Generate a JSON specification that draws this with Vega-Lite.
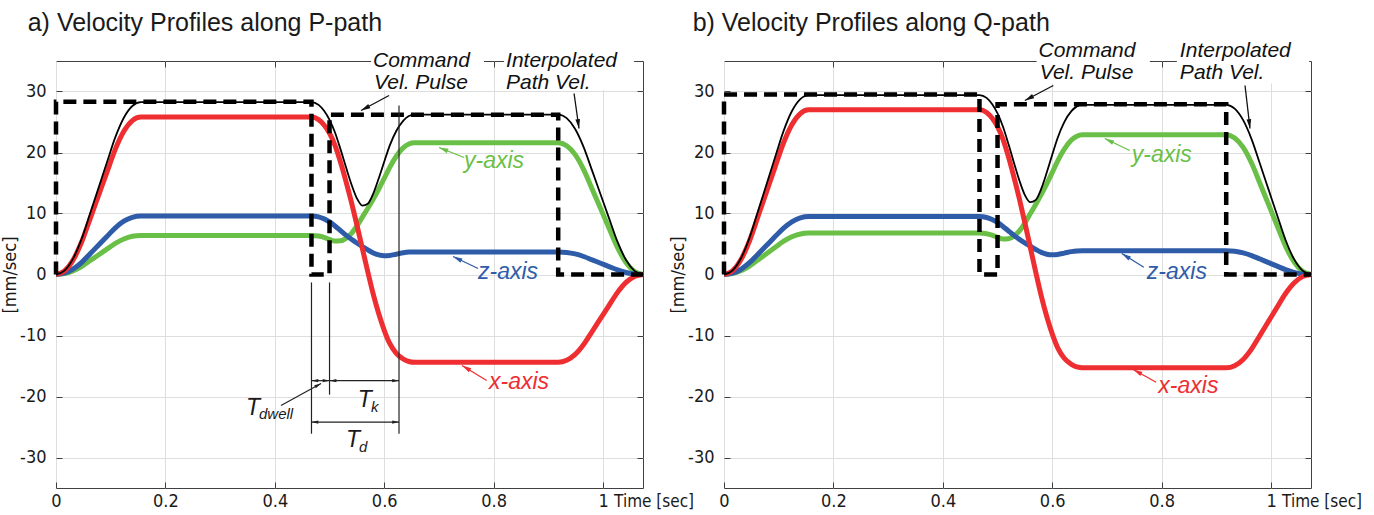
{
  "$schema": "https://vega.github.io/schema/vega-lite/v6.json",
  "background": "white",
  "padding": 0,
  "bounds": "flush",
  "spacing": 81,
  "config": {"view": {"stroke": "#404040", "strokeWidth": 1, "fill": "white"}},
  "datasets": {
    "curves": [
      {"panel":"a","t":0,"x":0,"y":0,"z":0,"p":0},
      {"panel":"a","t":0.0155,"x":0.58,"y":0.14,"z":0.22,"p":0.64},
      {"panel":"a","t":0.031,"x":2.33,"y":0.58,"z":0.87,"p":2.56},
      {"panel":"a","t":0.0465,"x":5.25,"y":1.3,"z":1.95,"p":5.75},
      {"panel":"a","t":0.062,"x":9.05,"y":2.25,"z":3.37,"p":9.91},
      {"panel":"a","t":0.0775,"x":12.9,"y":3.2,"z":4.8,"p":14.13},
      {"panel":"a","t":0.093,"x":16.75,"y":4.16,"z":6.23,"p":18.35},
      {"panel":"a","t":0.1085,"x":20.55,"y":5.1,"z":7.65,"p":22.51},
      {"panel":"a","t":0.124,"x":23.47,"y":5.82,"z":8.73,"p":25.7},
      {"panel":"a","t":0.1395,"x":25.22,"y":6.26,"z":9.38,"p":27.62},
      {"panel":"a","t":0.155,"x":25.8,"y":6.4,"z":9.6,"p":28.26},
      {"panel":"a","t":0.467,"x":25.8,"y":6.4,"z":9.6,"p":28.26},
      {"panel":"a","t":0.48,"x":25.39,"y":6.3,"z":9.45,"p":27.81},
      {"panel":"a","t":0.49,"x":24.51,"y":6.08,"z":9.12,"p":26.85},
      {"panel":"a","t":0.5,"x":23.16,"y":5.74,"z":8.62,"p":25.36},
      {"panel":"a","t":0.51,"x":21.18,"y":5.49,"z":7.96,"p":23.28},
      {"panel":"a","t":0.52,"x":18.44,"y":5.52,"z":7.2,"p":20.55},
      {"panel":"a","t":0.53,"x":15.28,"y":5.92,"z":6.45,"p":17.61},
      {"panel":"a","t":0.54,"x":11.85,"y":6.73,"z":5.77,"p":14.8},
      {"panel":"a","t":0.55,"x":8.14,"y":7.95,"z":5.16,"p":12.49},
      {"panel":"a","t":0.56,"x":4.27,"y":9.4,"z":4.59,"p":11.3},
      {"panel":"a","t":0.57,"x":0.41,"y":10.87,"z":4.03,"p":11.6},
      {"panel":"a","t":0.58,"x":-3.26,"y":12.38,"z":3.53,"p":13.28},
      {"panel":"a","t":0.59,"x":-6.45,"y":14.02,"z":3.22,"p":15.77},
      {"panel":"a","t":0.6,"x":-9.15,"y":15.77,"z":3.09,"p":18.49},
      {"panel":"a","t":0.61,"x":-11.31,"y":17.57,"z":3.12,"p":21.13},
      {"panel":"a","t":0.622,"x":-12.92,"y":19.39,"z":3.32,"p":23.52},
      {"panel":"a","t":0.635,"x":-13.86,"y":20.79,"z":3.56,"p":25.23},
      {"panel":"a","t":0.645,"x":-14.26,"y":21.4,"z":3.67,"p":25.97},
      {"panel":"a","t":0.655,"x":-14.4,"y":21.6,"z":3.7,"p":26.22},
      {"panel":"a","t":0.918,"x":-14.4,"y":21.6,"z":3.7,"p":26.22},
      {"panel":"a","t":0.9335,"x":-14.07,"y":21.11,"z":3.62,"p":25.63},
      {"panel":"a","t":0.949,"x":-13.1,"y":19.65,"z":3.37,"p":23.85},
      {"panel":"a","t":0.9645,"x":-11.47,"y":17.2,"z":2.95,"p":20.88},
      {"panel":"a","t":0.98,"x":-9.35,"y":14.02,"z":2.4,"p":17.02},
      {"panel":"a","t":0.9955,"x":-7.2,"y":10.8,"z":1.85,"p":13.11},
      {"panel":"a","t":1.011,"x":-5.05,"y":7.58,"z":1.3,"p":9.2},
      {"panel":"a","t":1.0265,"x":-2.93,"y":4.4,"z":0.75,"p":5.34},
      {"panel":"a","t":1.042,"x":-1.3,"y":1.95,"z":0.33,"p":2.37},
      {"panel":"a","t":1.0575,"x":-0.33,"y":0.49,"z":0.08,"p":0.59},
      {"panel":"a","t":1.073,"x":0,"y":0,"z":0,"p":0},
      {"panel":"b","t":0,"x":0,"y":0,"z":0,"p":0},
      {"panel":"b","t":0.0155,"x":0.61,"y":0.15,"z":0.21,"p":0.66},
      {"panel":"b","t":0.031,"x":2.44,"y":0.62,"z":0.86,"p":2.66},
      {"panel":"b","t":0.0465,"x":5.49,"y":1.38,"z":1.93,"p":5.99},
      {"panel":"b","t":0.062,"x":9.47,"y":2.39,"z":3.33,"p":10.32},
      {"panel":"b","t":0.0775,"x":13.5,"y":3.4,"z":4.75,"p":14.71},
      {"panel":"b","t":0.093,"x":17.53,"y":4.42,"z":6.17,"p":19.1},
      {"panel":"b","t":0.1085,"x":21.51,"y":5.42,"z":7.57,"p":23.43},
      {"panel":"b","t":0.124,"x":24.56,"y":6.18,"z":8.64,"p":26.76},
      {"panel":"b","t":0.1395,"x":26.39,"y":6.65,"z":9.29,"p":28.76},
      {"panel":"b","t":0.155,"x":27.0,"y":6.8,"z":9.5,"p":29.42},
      {"panel":"b","t":0.467,"x":27.0,"y":6.8,"z":9.5,"p":29.42},
      {"panel":"b","t":0.48,"x":26.57,"y":6.69,"z":9.35,"p":28.95},
      {"panel":"b","t":0.49,"x":25.65,"y":6.46,"z":9.03,"p":27.95},
      {"panel":"b","t":0.5,"x":24.23,"y":6.1,"z":8.53,"p":26.4},
      {"panel":"b","t":0.51,"x":22.16,"y":5.83,"z":7.88,"p":24.23},
      {"panel":"b","t":0.52,"x":19.29,"y":5.87,"z":7.14,"p":21.39},
      {"panel":"b","t":0.53,"x":15.97,"y":6.29,"z":6.41,"p":18.32},
      {"panel":"b","t":0.54,"x":12.37,"y":7.14,"z":5.75,"p":15.4},
      {"panel":"b","t":0.55,"x":8.47,"y":8.43,"z":5.17,"p":13.02},
      {"panel":"b","t":0.56,"x":4.4,"y":9.98,"z":4.63,"p":11.85},
      {"panel":"b","t":0.57,"x":0.33,"y":11.53,"z":4.09,"p":12.24},
      {"panel":"b","t":0.58,"x":-3.53,"y":13.13,"z":3.62,"p":14.07},
      {"panel":"b","t":0.59,"x":-6.89,"y":14.86,"z":3.33,"p":16.72},
      {"panel":"b","t":0.6,"x":-9.74,"y":16.72,"z":3.23,"p":19.62},
      {"panel":"b","t":0.61,"x":-12.02,"y":18.63,"z":3.29,"p":22.41},
      {"panel":"b","t":0.622,"x":-13.73,"y":20.55,"z":3.5,"p":24.97},
      {"panel":"b","t":0.635,"x":-14.72,"y":22.04,"z":3.75,"p":26.77},
      {"panel":"b","t":0.645,"x":-15.16,"y":22.68,"z":3.86,"p":27.56},
      {"panel":"b","t":0.655,"x":-15.3,"y":22.9,"z":3.9,"p":27.82},
      {"panel":"b","t":0.918,"x":-15.3,"y":22.9,"z":3.9,"p":27.82},
      {"panel":"b","t":0.9335,"x":-14.95,"y":22.38,"z":3.81,"p":27.19},
      {"panel":"b","t":0.949,"x":-13.92,"y":20.83,"z":3.55,"p":25.3},
      {"panel":"b","t":0.9645,"x":-12.19,"y":18.24,"z":3.11,"p":22.16},
      {"panel":"b","t":0.98,"x":-9.93,"y":14.87,"z":2.53,"p":18.06},
      {"panel":"b","t":0.9955,"x":-7.65,"y":11.45,"z":1.95,"p":13.91},
      {"panel":"b","t":1.011,"x":-5.37,"y":8.03,"z":1.37,"p":9.76},
      {"panel":"b","t":1.0265,"x":-3.11,"y":4.66,"z":0.79,"p":5.66},
      {"panel":"b","t":1.042,"x":-1.38,"y":2.07,"z":0.35,"p":2.52},
      {"panel":"b","t":1.0575,"x":-0.35,"y":0.52,"z":0.09,"p":0.63},
      {"panel":"b","t":1.073,"x":0,"y":0,"z":0,"p":0}
    ],
    "pulse": [
      {"panel":"a","i":0,"t":0,"v":0},{"panel":"a","i":1,"t":0,"v":28.3},{"panel":"a","i":2,"t":0.467,"v":28.3},
      {"panel":"a","i":3,"t":0.467,"v":0},{"panel":"a","i":4,"t":0.5,"v":0},{"panel":"a","i":5,"t":0.5,"v":26.2},
      {"panel":"a","i":6,"t":0.918,"v":26.2},{"panel":"a","i":7,"t":0.918,"v":0},{"panel":"a","i":8,"t":1.073,"v":0},
      {"panel":"b","i":0,"t":0,"v":0},{"panel":"b","i":1,"t":0,"v":29.5},{"panel":"b","i":2,"t":0.467,"v":29.5},
      {"panel":"b","i":3,"t":0.467,"v":0},{"panel":"b","i":4,"t":0.5,"v":0},{"panel":"b","i":5,"t":0.5,"v":27.9},
      {"panel":"b","i":6,"t":0.918,"v":27.9},{"panel":"b","i":7,"t":0.918,"v":0},{"panel":"b","i":8,"t":1.073,"v":0}
    ],
    "wrect": [
      {"panel":"a","t":0.5759,"t2":0.7824,"v":30.25,"v2":36.7},
      {"panel":"a","t":0.819,"t2":1.0567,"v":30.25,"v2":36.7},
      {"panel":"b","t":0.5714,"t2":0.7784,"v":31.3,"v2":38.4},
      {"panel":"b","t":0.8278,"t2":1.0696,"v":31.3,"v2":38.4}
    ],
    "ann": [
      {"panel":"a","t":0.5795,"v":33.95,"text":"Command","c":"k"},
      {"panel":"a","t":0.5814,"v":30.4,"text":"Vel. Pulse","c":"k"},
      {"panel":"a","t":0.8227,"v":33.95,"text":"Interpolated","c":"k"},
      {"panel":"a","t":0.8227,"v":30.4,"text":"Path Vel.","c":"k"},
      {"panel":"a","t":0.7459,"v":17.38,"text":"y-axis","c":"y"},
      {"panel":"a","t":0.7715,"v":-0.66,"text":"z-axis","c":"z"},
      {"panel":"a","t":0.7916,"v":-18.74,"text":"x-axis","c":"x"},
      {"panel":"b","t":0.575,"v":35.65,"text":"Command","c":"k"},
      {"panel":"b","t":0.577,"v":32.05,"text":"Vel. Pulse","c":"k"},
      {"panel":"b","t":0.8333,"v":35.65,"text":"Interpolated","c":"k"},
      {"panel":"b","t":0.8333,"v":32.05,"text":"Path Vel.","c":"k"},
      {"panel":"b","t":0.7454,"v":18.41,"text":"y-axis","c":"y"},
      {"panel":"b","t":0.7729,"v":-0.66,"text":"z-axis","c":"z"},
      {"panel":"b","t":0.794,"v":-19.5,"text":"x-axis","c":"x"}
    ],
    "arrows": [
      {"panel":"a","t":0.6088,"v":29.34,"t2":0.5576,"v2":26.89,"ang":242,"c":"k"},
      {"panel":"a","t":0.947,"v":29.67,"t2":0.956,"v2":23.93,"ang":172,"c":"k"},
      {"panel":"a","t":0.7459,"v":19.18,"t2":0.7002,"v2":20.82,"ang":292,"c":"y"},
      {"panel":"a","t":0.7715,"v":0.98,"t2":0.7258,"v2":2.95,"ang":296,"c":"z"},
      {"panel":"a","t":0.7872,"v":-17.38,"t2":0.7422,"v2":-14.92,"ang":301,"c":"x"},
      {"panel":"b","t":0.602,"v":30.98,"t2":0.55,"v2":28.52,"ang":242,"c":"k"},
      {"panel":"b","t":0.9524,"v":30.98,"t2":0.9615,"v2":23.93,"ang":173,"c":"k"},
      {"panel":"b","t":0.7418,"v":20.33,"t2":0.696,"v2":22.3,"ang":296,"c":"y"},
      {"panel":"b","t":0.7674,"v":1.2,"t2":0.7271,"v2":3.44,"ang":302,"c":"z"},
      {"panel":"b","t":0.79,"v":-17.66,"t2":0.748,"v2":-15.57,"ang":299,"c":"x"}
    ],
    "tlines": [
      {"t":0.467,"v":-1.3,"t2":0.467,"v2":-26.1},
      {"t":0.5,"v":-1.3,"t2":0.5,"v2":-19.7},
      {"t":0.627,"v":27.7,"t2":0.627,"v2":-26.1},
      {"t":0.467,"v":-17.4,"t2":0.5,"v2":-17.4},
      {"t":0.5,"v":-17.4,"t2":0.627,"v2":-17.4},
      {"t":0.467,"v":-24.2,"t2":0.627,"v2":-24.2},
      {"t":0.4113,"v":-21.48,"t2":0.4845,"v2":-17.87}
    ],
    "theads": [
      {"t":0.467,"v":-17.4,"ang":270},{"t":0.5,"v":-17.4,"ang":90},
      {"t":0.5,"v":-17.4,"ang":270},{"t":0.627,"v":-17.4,"ang":90},
      {"t":0.467,"v":-24.2,"ang":270},{"t":0.627,"v":-24.2,"ang":90},
      {"t":0.4845,"v":-17.87,"ang":61}
    ],
    "tlabels": [
      {"t":0.3474,"v":-23.11,"text":"T","role":"main"},
      {"t":0.5516,"v":-21.75,"text":"T","role":"main"},
      {"t":0.5302,"v":-28.31,"text":"T","role":"main"},
      {"t":0.3711,"v":-23.66,"text":"dwell","role":"sub"},
      {"t":0.5759,"v":-22.57,"text":"k","role":"sub"},
      {"t":0.5539,"v":-29.13,"text":"d","role":"sub"}
    ],
    "titles": [
      {"panel":"a","t":-0.0517,"v":39.92,"text":"a) Velocity Profiles along P-path"},
      {"panel":"b","t":-0.0573,"v":39.92,"text":"b) Velocity Profiles along Q-path"}
    ],
    "timelab": [
      {"panel":"a","t":1.0201,"v":-38.1,"text":"Time [sec]"},
      {"panel":"b","t":1.0201,"v":-38.1,"text":"Time [sec]"}
    ]
  },
  "hconcat": [
    {
      "width": 587, "height": 427,
      "resolve": {"axis": {"x": "independent", "y": "independent"}},
      "layer": [
        {"data": {"name": "curves"}, "transform": [{"filter": "datum.panel == 'a'"}], "mark": {"type": "line", "color": "#6abf47", "strokeWidth": 5, "interpolate": "monotone"},
         "encoding": {
           "x": {"field": "t", "type": "quantitative", "scale": {"domain": [0, 1.073], "nice": false, "zero": false},
             "axis": {"title": null, "values": [0, 0.2, 0.4, 0.6, 0.8, 1], "labelExpr": "'' + datum.value", "grid": true, "gridColor": "#dedede", "gridWidth": 1, "domain": false, "ticks": true, "tickSize": -6, "tickColor": "#404040", "tickWidth": 1, "labelPadding": 10, "labelFlush": false, "labelOverlap": false, "labelFont": "DejaVu Sans Condensed, Liberation Sans Narrow, Liberation Sans", "labelFontSize": 18, "labelColor": "#1a1a1a"}},
           "y": {"field": "y", "type": "quantitative", "scale": {"domain": [-35, 35], "nice": false, "zero": false},
             "axis": {"title": "[mm/sec]", "values": [-30, -20, -10, 0, 10, 20, 30], "labelExpr": "'' + datum.value", "grid": true, "gridColor": "#dedede", "gridWidth": 1, "domain": false, "ticks": true, "tickSize": -6, "tickColor": "#404040", "tickWidth": 1, "labelPadding": 16, "labelFlush": false, "labelOverlap": false, "labelFont": "DejaVu Sans Condensed, Liberation Sans Narrow, Liberation Sans", "labelFontSize": 18, "labelColor": "#1a1a1a", "titleFont": "DejaVu Sans Condensed, Liberation Sans Narrow, Liberation Sans", "titleFontSize": 18, "titleFontWeight": "normal", "titleColor": "#1a1a1a", "titlePadding": 0}}
         }},
        {"data": {"name": "curves"}, "transform": [{"filter": "datum.panel == 'a'"}], "mark": {"type": "line", "color": "#2f5ca8", "strokeWidth": 5, "interpolate": "monotone"},
         "encoding": {"x": {"field": "t", "type": "quantitative", "scale": {"domain": [0, 1.073], "nice": false, "zero": false}, "axis": null}, "y": {"field": "z", "type": "quantitative", "scale": {"domain": [-35, 35], "nice": false, "zero": false}, "axis": null}}},
        {"data": {"name": "curves"}, "transform": [{"filter": "datum.panel == 'a'"}], "mark": {"type": "line", "color": "#ee2e31", "strokeWidth": 5, "interpolate": "monotone"},
         "encoding": {"x": {"field": "t", "type": "quantitative", "scale": {"domain": [0, 1.073], "nice": false, "zero": false}, "axis": null}, "y": {"field": "x", "type": "quantitative", "scale": {"domain": [-35, 35], "nice": false, "zero": false}, "axis": null}}},
        {"data": {"name": "curves"}, "transform": [{"filter": "datum.panel == 'a'"}], "mark": {"type": "line", "color": "#000000", "strokeWidth": 1.8, "interpolate": "monotone"},
         "encoding": {"x": {"field": "t", "type": "quantitative", "scale": {"domain": [0, 1.073], "nice": false, "zero": false}, "axis": null}, "y": {"field": "p", "type": "quantitative", "scale": {"domain": [-35, 35], "nice": false, "zero": false}, "axis": null}}},
        {"data": {"name": "pulse"}, "transform": [{"filter": "datum.panel == 'a'"}], "mark": {"type": "line", "color": "#000000", "strokeWidth": 4.5, "strokeDash": [13, 7], "strokeJoin": "miter", "strokeCap": "butt"},
         "encoding": {"x": {"field": "t", "type": "quantitative", "scale": {"domain": [0, 1.073], "nice": false, "zero": false}, "axis": null}, "y": {"field": "v", "type": "quantitative", "scale": {"domain": [-35, 35], "nice": false, "zero": false}, "axis": null}, "order": {"field": "i", "type": "quantitative"}}},
        {"data": {"name": "pulse"}, "transform": [{"filter": "datum.panel == 'a'"}], "mark": {"type": "point", "opacity": 0, "size": 1},
         "encoding": {
           "x": {"field": "t", "type": "quantitative", "scale": {"domain": [0, 1.073], "nice": false, "zero": false},
             "axis": {"orient": "top", "title": null, "labels": false, "grid": false, "domain": false, "ticks": true, "tickSize": -6, "tickColor": "#404040", "values": [0.2, 0.4, 0.6, 0.8, 1]}},
           "y": {"field": "v", "type": "quantitative", "scale": {"domain": [-35, 35], "nice": false, "zero": false},
             "axis": {"orient": "right", "title": null, "labels": false, "grid": false, "domain": false, "ticks": true, "tickSize": -6, "tickColor": "#404040", "values": [-30, -20, -10, 0, 10, 20, 30]}}
         }},
        {"data": {"name": "wrect"}, "transform": [{"filter": "datum.panel == 'a'"}], "mark": {"type": "rect", "color": "white", "opacity": 1},
         "encoding": {"x": {"field": "t", "type": "quantitative", "scale": {"domain": [0, 1.073], "nice": false, "zero": false}, "axis": null}, "y": {"field": "v", "type": "quantitative", "scale": {"domain": [-35, 35], "nice": false, "zero": false}, "axis": null}, "x2": {"field": "t2"}, "y2": {"field": "v2"}}},
        {"data": {"name": "tlines"}, "mark": {"type": "rule", "color": "#222222", "strokeWidth": 1.2},
         "encoding": {"x": {"field": "t", "type": "quantitative", "scale": {"domain": [0, 1.073], "nice": false, "zero": false}, "axis": null}, "y": {"field": "v", "type": "quantitative", "scale": {"domain": [-35, 35], "nice": false, "zero": false}, "axis": null}, "x2": {"field": "t2"}, "y2": {"field": "v2"}}},
        {"data": {"name": "theads"}, "mark": {"type": "point", "shape": "M0,0L-0.625,2.5L0.625,2.5Z", "size": 30, "filled": true, "color": "#222222", "opacity": 1},
         "encoding": {"x": {"field": "t", "type": "quantitative", "scale": {"domain": [0, 1.073], "nice": false, "zero": false}, "axis": null}, "y": {"field": "v", "type": "quantitative", "scale": {"domain": [-35, 35], "nice": false, "zero": false}, "axis": null}, "angle": {"field": "ang", "type": "quantitative", "scale": null}}},
        {"data": {"name": "tlabels"}, "transform": [{"filter": "datum.role == 'main'"}], "mark": {"type": "text", "align": "left", "baseline": "alphabetic", "font": "Liberation Sans", "fontStyle": "italic", "fontSize": 23, "color": "#1a1a1a"},
         "encoding": {"x": {"field": "t", "type": "quantitative", "scale": {"domain": [0, 1.073], "nice": false, "zero": false}, "axis": null}, "y": {"field": "v", "type": "quantitative", "scale": {"domain": [-35, 35], "nice": false, "zero": false}, "axis": null}, "text": {"field": "text"}}},
        {"data": {"name": "tlabels"}, "transform": [{"filter": "datum.role == 'sub'"}], "mark": {"type": "text", "align": "left", "baseline": "alphabetic", "font": "Liberation Sans", "fontStyle": "italic", "fontSize": 15, "color": "#1a1a1a"},
         "encoding": {"x": {"field": "t", "type": "quantitative", "scale": {"domain": [0, 1.073], "nice": false, "zero": false}, "axis": null}, "y": {"field": "v", "type": "quantitative", "scale": {"domain": [-35, 35], "nice": false, "zero": false}, "axis": null}, "text": {"field": "text"}}},
        {"data": {"name": "ann"}, "transform": [{"filter": "datum.panel == 'a' && datum.c == 'k'"}], "mark": {"type": "text", "align": "left", "baseline": "alphabetic", "font": "Liberation Sans", "fontStyle": "italic", "fontSize": 21, "color": "#111111"},
         "encoding": {"x": {"field": "t", "type": "quantitative", "scale": {"domain": [0, 1.073], "nice": false, "zero": false}, "axis": null}, "y": {"field": "v", "type": "quantitative", "scale": {"domain": [-35, 35], "nice": false, "zero": false}, "axis": null}, "text": {"field": "text"}}},
        {"data": {"name": "ann"}, "transform": [{"filter": "datum.panel == 'a' && datum.c != 'k'"}], "mark": {"type": "text", "align": "left", "baseline": "alphabetic", "font": "Liberation Sans", "fontStyle": "italic", "fontSize": 23},
         "encoding": {"x": {"field": "t", "type": "quantitative", "scale": {"domain": [0, 1.073], "nice": false, "zero": false}, "axis": null}, "y": {"field": "v", "type": "quantitative", "scale": {"domain": [-35, 35], "nice": false, "zero": false}, "axis": null}, "text": {"field": "text"}, "color": {"field": "c", "type": "nominal", "scale": {"domain": ["k", "x", "y", "z"], "range": ["#111111", "#ee2e31", "#6abf47", "#2f5ca8"]}, "legend": null}}},
        {"data": {"name": "arrows"}, "transform": [{"filter": "datum.panel == 'a'"}], "mark": {"type": "rule", "strokeWidth": 1.3},
         "encoding": {"x": {"field": "t", "type": "quantitative", "scale": {"domain": [0, 1.073], "nice": false, "zero": false}, "axis": null}, "y": {"field": "v", "type": "quantitative", "scale": {"domain": [-35, 35], "nice": false, "zero": false}, "axis": null}, "x2": {"field": "t2"}, "y2": {"field": "v2"}, "color": {"field": "c", "type": "nominal", "scale": {"domain": ["k", "x", "y", "z"], "range": ["#111111", "#ee2e31", "#6abf47", "#2f5ca8"]}, "legend": null}}},
        {"data": {"name": "arrows"}, "transform": [{"filter": "datum.panel == 'a'"}], "mark": {"type": "point", "shape": "M0,0L-0.625,2.5L0.625,2.5Z", "size": 56, "filled": true, "opacity": 1},
         "encoding": {"x": {"field": "t2", "type": "quantitative", "scale": {"domain": [0, 1.073], "nice": false, "zero": false}, "axis": null}, "y": {"field": "v2", "type": "quantitative", "scale": {"domain": [-35, 35], "nice": false, "zero": false}, "axis": null}, "angle": {"field": "ang", "type": "quantitative", "scale": null}, "color": {"field": "c", "type": "nominal", "scale": {"domain": ["k", "x", "y", "z"], "range": ["#111111", "#ee2e31", "#6abf47", "#2f5ca8"]}, "legend": null}}},
        {"data": {"name": "titles"}, "transform": [{"filter": "datum.panel == 'a'"}], "mark": {"type": "text", "align": "left", "baseline": "alphabetic", "font": "Liberation Sans", "fontSize": 25, "color": "#1a1a1a"},
         "encoding": {"x": {"field": "t", "type": "quantitative", "scale": {"domain": [0, 1.073], "nice": false, "zero": false}, "axis": null}, "y": {"field": "v", "type": "quantitative", "scale": {"domain": [-35, 35], "nice": false, "zero": false}, "axis": null}, "text": {"field": "text"}}},
        {"data": {"name": "timelab"}, "transform": [{"filter": "datum.panel == 'a'"}], "mark": {"type": "text", "align": "left", "baseline": "alphabetic", "font": "DejaVu Sans Condensed, Liberation Sans Narrow, Liberation Sans", "fontSize": 17, "color": "#1a1a1a"},
         "encoding": {"x": {"field": "t", "type": "quantitative", "scale": {"domain": [0, 1.073], "nice": false, "zero": false}, "axis": null}, "y": {"field": "v", "type": "quantitative", "scale": {"domain": [-35, 35], "nice": false, "zero": false}, "axis": null}, "text": {"field": "text"}}},
        {"data": {"values": [{"t": -0.09962, "v": 44.754}]}, "mark": {"type": "point", "shape": "square", "size": 1, "filled": true, "opacity": 0},
         "encoding": {"x": {"field": "t", "type": "quantitative", "scale": {"domain": [0, 1.073], "nice": false, "zero": false}, "axis": null}, "y": {"field": "v", "type": "quantitative", "scale": {"domain": [-35, 35], "nice": false, "zero": false}, "axis": null}}}
      ]
    },
    {
      "width": 587, "height": 427,
      "resolve": {"axis": {"x": "independent", "y": "independent"}},
      "layer": [
        {"data": {"name": "curves"}, "transform": [{"filter": "datum.panel == 'b'"}], "mark": {"type": "line", "color": "#6abf47", "strokeWidth": 5, "interpolate": "monotone"},
         "encoding": {
           "x": {"field": "t", "type": "quantitative", "scale": {"domain": [0, 1.073], "nice": false, "zero": false},
             "axis": {"title": null, "values": [0, 0.2, 0.4, 0.6, 0.8, 1], "labelExpr": "'' + datum.value", "grid": true, "gridColor": "#dedede", "gridWidth": 1, "domain": false, "ticks": true, "tickSize": -6, "tickColor": "#404040", "tickWidth": 1, "labelPadding": 10, "labelFlush": false, "labelOverlap": false, "labelFont": "DejaVu Sans Condensed, Liberation Sans Narrow, Liberation Sans", "labelFontSize": 18, "labelColor": "#1a1a1a"}},
           "y": {"field": "y", "type": "quantitative", "scale": {"domain": [-35, 35], "nice": false, "zero": false},
             "axis": {"title": "[mm/sec]", "values": [-30, -20, -10, 0, 10, 20, 30], "labelExpr": "'' + datum.value", "grid": true, "gridColor": "#dedede", "gridWidth": 1, "domain": false, "ticks": true, "tickSize": -6, "tickColor": "#404040", "tickWidth": 1, "labelPadding": 16, "labelFlush": false, "labelOverlap": false, "labelFont": "DejaVu Sans Condensed, Liberation Sans Narrow, Liberation Sans", "labelFontSize": 18, "labelColor": "#1a1a1a", "titleFont": "DejaVu Sans Condensed, Liberation Sans Narrow, Liberation Sans", "titleFontSize": 18, "titleFontWeight": "normal", "titleColor": "#1a1a1a", "titlePadding": 0}}
         }},
        {"data": {"name": "curves"}, "transform": [{"filter": "datum.panel == 'b'"}], "mark": {"type": "line", "color": "#2f5ca8", "strokeWidth": 5, "interpolate": "monotone"},
         "encoding": {"x": {"field": "t", "type": "quantitative", "scale": {"domain": [0, 1.073], "nice": false, "zero": false}, "axis": null}, "y": {"field": "z", "type": "quantitative", "scale": {"domain": [-35, 35], "nice": false, "zero": false}, "axis": null}}},
        {"data": {"name": "curves"}, "transform": [{"filter": "datum.panel == 'b'"}], "mark": {"type": "line", "color": "#ee2e31", "strokeWidth": 5, "interpolate": "monotone"},
         "encoding": {"x": {"field": "t", "type": "quantitative", "scale": {"domain": [0, 1.073], "nice": false, "zero": false}, "axis": null}, "y": {"field": "x", "type": "quantitative", "scale": {"domain": [-35, 35], "nice": false, "zero": false}, "axis": null}}},
        {"data": {"name": "curves"}, "transform": [{"filter": "datum.panel == 'b'"}], "mark": {"type": "line", "color": "#000000", "strokeWidth": 1.8, "interpolate": "monotone"},
         "encoding": {"x": {"field": "t", "type": "quantitative", "scale": {"domain": [0, 1.073], "nice": false, "zero": false}, "axis": null}, "y": {"field": "p", "type": "quantitative", "scale": {"domain": [-35, 35], "nice": false, "zero": false}, "axis": null}}},
        {"data": {"name": "pulse"}, "transform": [{"filter": "datum.panel == 'b'"}], "mark": {"type": "line", "color": "#000000", "strokeWidth": 4.5, "strokeDash": [13, 7], "strokeJoin": "miter", "strokeCap": "butt"},
         "encoding": {"x": {"field": "t", "type": "quantitative", "scale": {"domain": [0, 1.073], "nice": false, "zero": false}, "axis": null}, "y": {"field": "v", "type": "quantitative", "scale": {"domain": [-35, 35], "nice": false, "zero": false}, "axis": null}, "order": {"field": "i", "type": "quantitative"}}},
        {"data": {"name": "pulse"}, "transform": [{"filter": "datum.panel == 'b'"}], "mark": {"type": "point", "opacity": 0, "size": 1},
         "encoding": {
           "x": {"field": "t", "type": "quantitative", "scale": {"domain": [0, 1.073], "nice": false, "zero": false},
             "axis": {"orient": "top", "title": null, "labels": false, "grid": false, "domain": false, "ticks": true, "tickSize": -6, "tickColor": "#404040", "values": [0.2, 0.4, 0.6, 0.8, 1]}},
           "y": {"field": "v", "type": "quantitative", "scale": {"domain": [-35, 35], "nice": false, "zero": false},
             "axis": {"orient": "right", "title": null, "labels": false, "grid": false, "domain": false, "ticks": true, "tickSize": -6, "tickColor": "#404040", "values": [-30, -20, -10, 0, 10, 20, 30]}}
         }},
        {"data": {"name": "wrect"}, "transform": [{"filter": "datum.panel == 'b'"}], "mark": {"type": "rect", "color": "white", "opacity": 1},
         "encoding": {"x": {"field": "t", "type": "quantitative", "scale": {"domain": [0, 1.073], "nice": false, "zero": false}, "axis": null}, "y": {"field": "v", "type": "quantitative", "scale": {"domain": [-35, 35], "nice": false, "zero": false}, "axis": null}, "x2": {"field": "t2"}, "y2": {"field": "v2"}}},
        {"data": {"name": "ann"}, "transform": [{"filter": "datum.panel == 'b' && datum.c == 'k'"}], "mark": {"type": "text", "align": "left", "baseline": "alphabetic", "font": "Liberation Sans", "fontStyle": "italic", "fontSize": 21, "color": "#111111"},
         "encoding": {"x": {"field": "t", "type": "quantitative", "scale": {"domain": [0, 1.073], "nice": false, "zero": false}, "axis": null}, "y": {"field": "v", "type": "quantitative", "scale": {"domain": [-35, 35], "nice": false, "zero": false}, "axis": null}, "text": {"field": "text"}}},
        {"data": {"name": "ann"}, "transform": [{"filter": "datum.panel == 'b' && datum.c != 'k'"}], "mark": {"type": "text", "align": "left", "baseline": "alphabetic", "font": "Liberation Sans", "fontStyle": "italic", "fontSize": 23},
         "encoding": {"x": {"field": "t", "type": "quantitative", "scale": {"domain": [0, 1.073], "nice": false, "zero": false}, "axis": null}, "y": {"field": "v", "type": "quantitative", "scale": {"domain": [-35, 35], "nice": false, "zero": false}, "axis": null}, "text": {"field": "text"}, "color": {"field": "c", "type": "nominal", "scale": {"domain": ["k", "x", "y", "z"], "range": ["#111111", "#ee2e31", "#6abf47", "#2f5ca8"]}, "legend": null}}},
        {"data": {"name": "arrows"}, "transform": [{"filter": "datum.panel == 'b'"}], "mark": {"type": "rule", "strokeWidth": 1.3},
         "encoding": {"x": {"field": "t", "type": "quantitative", "scale": {"domain": [0, 1.073], "nice": false, "zero": false}, "axis": null}, "y": {"field": "v", "type": "quantitative", "scale": {"domain": [-35, 35], "nice": false, "zero": false}, "axis": null}, "x2": {"field": "t2"}, "y2": {"field": "v2"}, "color": {"field": "c", "type": "nominal", "scale": {"domain": ["k", "x", "y", "z"], "range": ["#111111", "#ee2e31", "#6abf47", "#2f5ca8"]}, "legend": null}}},
        {"data": {"name": "arrows"}, "transform": [{"filter": "datum.panel == 'b'"}], "mark": {"type": "point", "shape": "M0,0L-0.625,2.5L0.625,2.5Z", "size": 56, "filled": true, "opacity": 1},
         "encoding": {"x": {"field": "t2", "type": "quantitative", "scale": {"domain": [0, 1.073], "nice": false, "zero": false}, "axis": null}, "y": {"field": "v2", "type": "quantitative", "scale": {"domain": [-35, 35], "nice": false, "zero": false}, "axis": null}, "angle": {"field": "ang", "type": "quantitative", "scale": null}, "color": {"field": "c", "type": "nominal", "scale": {"domain": ["k", "x", "y", "z"], "range": ["#111111", "#ee2e31", "#6abf47", "#2f5ca8"]}, "legend": null}}},
        {"data": {"name": "titles"}, "transform": [{"filter": "datum.panel == 'b'"}], "mark": {"type": "text", "align": "left", "baseline": "alphabetic", "font": "Liberation Sans", "fontSize": 25, "color": "#1a1a1a"},
         "encoding": {"x": {"field": "t", "type": "quantitative", "scale": {"domain": [0, 1.073], "nice": false, "zero": false}, "axis": null}, "y": {"field": "v", "type": "quantitative", "scale": {"domain": [-35, 35], "nice": false, "zero": false}, "axis": null}, "text": {"field": "text"}}},
        {"data": {"name": "timelab"}, "transform": [{"filter": "datum.panel == 'b'"}], "mark": {"type": "text", "align": "left", "baseline": "alphabetic", "font": "DejaVu Sans Condensed, Liberation Sans Narrow, Liberation Sans", "fontSize": 17, "color": "#1a1a1a"},
         "encoding": {"x": {"field": "t", "type": "quantitative", "scale": {"domain": [0, 1.073], "nice": false, "zero": false}, "axis": null}, "y": {"field": "v", "type": "quantitative", "scale": {"domain": [-35, 35], "nice": false, "zero": false}, "axis": null}, "text": {"field": "text"}}},
        {"data": {"values": [{"t": 1.1891, "v": -39.51}]}, "mark": {"type": "point", "shape": "square", "size": 1, "filled": true, "opacity": 0},
         "encoding": {"x": {"field": "t", "type": "quantitative", "scale": {"domain": [0, 1.073], "nice": false, "zero": false}, "axis": null}, "y": {"field": "v", "type": "quantitative", "scale": {"domain": [-35, 35], "nice": false, "zero": false}, "axis": null}}}
      ]
    }
  ]
}
